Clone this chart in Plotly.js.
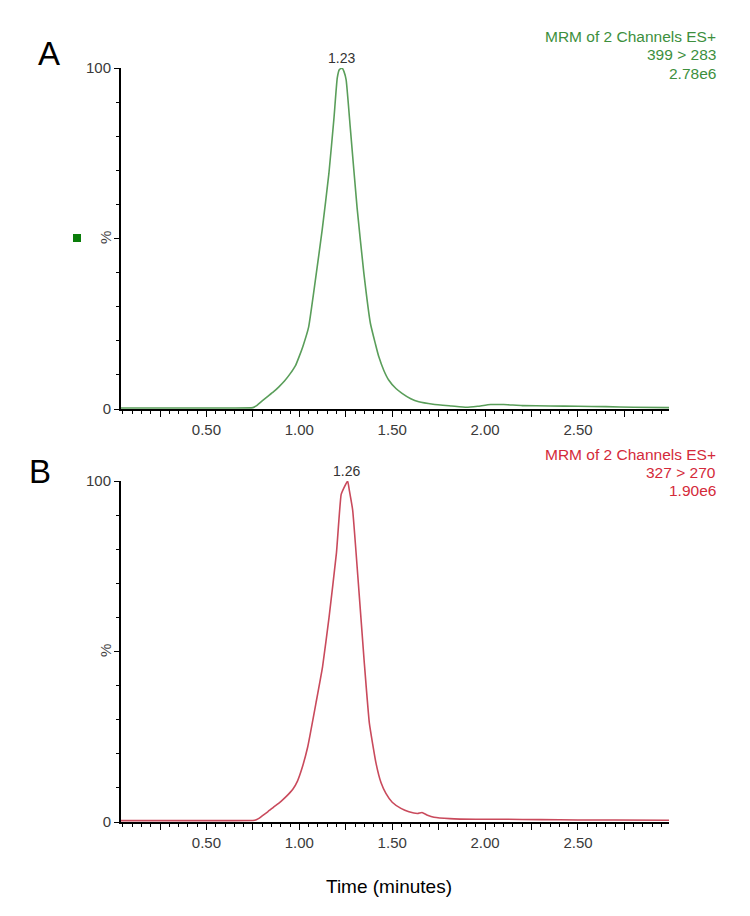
<!DOCTYPE html>
<html>
<head>
<meta charset="utf-8">
<script src="https://cdn.plot.ly/plotly-3.0.1.min.js"></script>
<style>
  html, body { margin: 0; padding: 0; background: #fff; }
  #chart { width: 750px; height: 916px; }
</style>
</head>
<body>
<div id="chart"></div>
<script>
// trace A: 399 > 283
const timeA = [0.04, 0.30, 0.60, 0.75, 0.77, 0.80, 0.83, 0.86, 0.89, 0.92, 0.95, 0.98, 1.00, 1.02, 1.05, 1.087, 1.123, 1.159, 1.186, 1.204, 1.215, 1.23, 1.24, 1.252, 1.275, 1.311, 1.347, 1.383, 1.41, 1.428, 1.455, 1.481, 1.52, 1.553, 1.60, 1.643, 1.72, 1.82, 1.90, 1.96, 2.03, 2.10, 2.20, 2.35, 2.50, 2.65, 2.80, 2.99];
const valA  = [0.3, 0.3, 0.3, 0.4, 1.0, 2.4, 3.7, 5.0, 6.5, 8.2, 10.3, 12.8, 15.5, 18.5, 24, 38, 52.5, 69, 85, 97, 99.5, 100, 99, 96.5, 82, 59, 40, 25, 19, 15.3, 11.3, 8.5, 6.0, 4.6, 3.0, 2.1, 1.4, 0.9, 0.5, 0.8, 1.3, 1.3, 1.0, 0.9, 0.8, 0.7, 0.5, 0.4];

// trace B: 327 > 270
const timeB = [0.04, 0.30, 0.60, 0.76, 0.78, 0.80, 0.83, 0.86, 0.90, 0.93, 0.965, 0.99, 1.01, 1.045, 1.09, 1.125, 1.16, 1.20, 1.225, 1.24, 1.26, 1.27, 1.287, 1.315, 1.35, 1.377, 1.413, 1.44, 1.466, 1.50, 1.547, 1.59, 1.636, 1.66, 1.69, 1.725, 1.81, 1.95, 2.10, 2.30, 2.50, 2.70, 2.99];
const valB  = [0.4, 0.4, 0.4, 0.5, 1.0, 1.8, 3.0, 4.3, 6.0, 7.5, 9.6, 12, 15, 22, 35, 45.5, 60, 79, 96, 98, 100, 97, 91.5, 72, 46.5, 29, 17.2, 11.5, 8.4, 5.8, 4.0, 3.0, 2.5, 2.8, 2.0, 1.4, 1.0, 0.8, 0.8, 0.7, 0.6, 0.6, 0.5];

const xTickVals = [0.25, 0.50, 0.75, 1.00, 1.25, 1.50, 1.75, 2.00, 2.25, 2.50, 2.75];
const xTickText = ['', '0.50', '', '1.00', '', '1.50', '', '2.00', '', '2.50', ''];
const yTickVals = [0, 50, 100];
const yTickText = ['0', '', '100'];

const W = 750, H = 916;
const px = v => v / W;
const py = v => 1 - v / H;

const greenLine = '#5a9e5a';
const greenText = '#3d8f3d';
const redLine = '#c94a5c';
const redText = '#d42a3a';
const plainFont = 'Liberation Sans, Arial, sans-serif';
const tickFont = {family: plainFont, size: 15, color: '#3a3a3a'};

function xAxis(anchor) {
    return {
        anchor: anchor,
        domain: [px(121), px(669)],
        range: [0.04, 2.99],
        tickmode: 'array',
        tickvals: xTickVals,
        ticktext: xTickText,
        ticks: 'outside',
        ticklen: 6,
        tickwidth: 1,
        tickcolor: '#000',
        minor: {dtick: 0.05, tick0: 0, ticks: 'outside', ticklen: 3, tickcolor: '#000', tickwidth: 1},
        showline: true,
        linecolor: '#000',
        linewidth: 2,
        showgrid: false,
        zeroline: false,
        tickfont: tickFont,
        fixedrange: true
    };
}

function yAxis(anchor, top, bottom) {
    return {
        anchor: anchor,
        domain: [py(bottom), py(top)],
        range: [0, 100],
        tickmode: 'array',
        tickvals: yTickVals,
        ticktext: yTickText,
        ticks: 'outside',
        ticklen: 5,
        tickwidth: 1,
        tickcolor: '#000',
        minor: {dtick: 10, tick0: 0, ticks: 'outside', ticklen: 3, tickcolor: '#000', tickwidth: 1},
        showline: true,
        linecolor: '#000',
        linewidth: 2,
        showgrid: false,
        zeroline: false,
        tickfont: tickFont,
        fixedrange: true
    };
}

const traces = [
    {x: timeA, y: valA, xaxis: 'x', yaxis: 'y', type: 'scatter', mode: 'lines',
     line: {color: greenLine, width: 1.6, shape: 'spline', smoothing: 0.4}, hoverinfo: 'skip'},
    {x: timeB, y: valB, xaxis: 'x2', yaxis: 'y2', type: 'scatter', mode: 'lines',
     line: {color: redLine, width: 1.6, shape: 'spline', smoothing: 0.4}, hoverinfo: 'skip'}
];

function label(text, x, y, size, color, extra) {
    return Object.assign({text: text, xref: 'paper', yref: 'paper', x: px(x), y: py(y),
        xanchor: 'center', yanchor: 'middle', showarrow: false,
        font: {family: plainFont, size: size, color: color}}, extra || {});
}

const layout = {
    width: W,
    height: H,
    margin: {l: 0, r: 0, t: 0, b: 0},
    paper_bgcolor: '#fff',
    plot_bgcolor: '#fff',
    showlegend: false,
    xaxis: xAxis('y'),
    yaxis: yAxis('x', 68, 409),
    xaxis2: xAxis('y2'),
    yaxis2: yAxis('x2', 481, 822),
    annotations: [
        label('A', 49, 53, 33, '#000'),
        label('B', 40, 471, 33, '#000'),
        label('MRM of 2 Channels ES+', 718, 37, 15.5, greenText, {xanchor: 'right'}),
        label('399 &gt; 283', 718, 55, 15.5, greenText, {xanchor: 'right'}),
        label('2.78e6', 718, 73, 15.5, greenText, {xanchor: 'right'}),
        label('MRM of 2 Channels ES+', 718, 454, 15.5, redText, {xanchor: 'right'}),
        label('327 &gt; 270', 718, 472, 15.5, redText, {xanchor: 'right'}),
        label('1.90e6', 718, 490, 15.5, redText, {xanchor: 'right'}),
        label('1.23', 341, 58, 14, '#333'),
        label('1.26', 346, 471, 14, '#333'),
        label('%', 105, 238, 15, '#444', {textangle: -90}),
        label('%', 105, 651, 15, '#444', {textangle: -90}),
        label('Time (minutes)', 389, 886, 19, '#000')
    ],
    shapes: [
        {type: 'rect', xref: 'paper', yref: 'paper', x0: px(73), x1: px(81), y0: py(242), y1: py(234),
         fillcolor: '#0a7d0a', line: {width: 0}}
    ]
};

Plotly.newPlot('chart', traces, layout, {displayModeBar: false, staticPlot: true});
</script>
</body>
</html>
